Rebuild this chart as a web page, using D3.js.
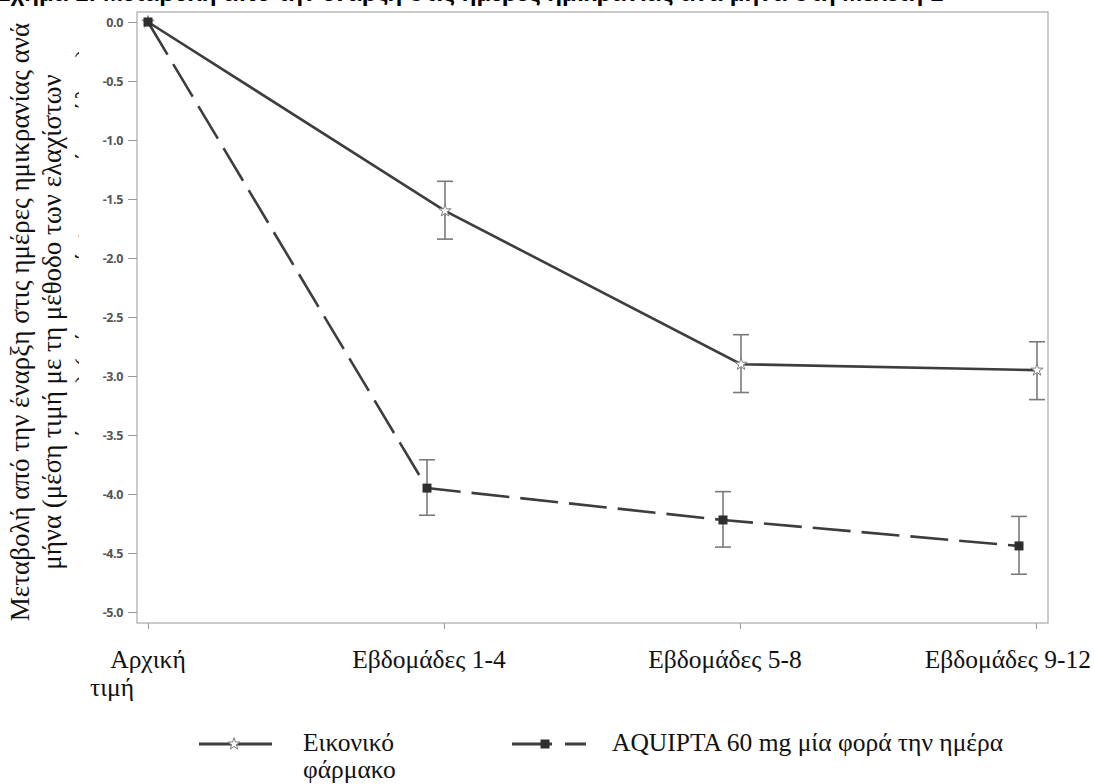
<!DOCTYPE html>
<html>
<head>
<meta charset="utf-8">
<script src="https://cdn.jsdelivr.net/npm/d3@7"></script>
<style>
  body { margin: 0; background: #fff; }
  svg { display: block; }
</style>
</head>
<body>
<div id="chart"></div>
<script>
/* Change from baseline in monthly migraine days, placebo vs AQUIPTA */

const visits = ["Αρχική τιμή", "Εβδομάδες 1-4", "Εβδομάδες 5-8", "Εβδομάδες 9-12"];
const yTicks = [0, -0.5, -1, -1.5, -2, -2.5, -3, -3.5, -4, -4.5, -5];

const placeboMean = [0, -1.60, -2.90, -2.95];
const placeboLow  = [0, -1.84, -3.14, -3.20];
const placeboHigh = [0, -1.35, -2.65, -2.71];

const aquiptaMean = [0, -3.95, -4.22, -4.44];
const aquiptaLow  = [0, -4.18, -4.45, -4.68];
const aquiptaHigh = [0, -3.71, -3.98, -4.19];

const W = 1094, H = 784;
const frame = { left: 137, top: 12, right: 1048, bottom: 623 };
const LINE = "#3d3d3d", ERR = "#7a7a7a";
const serif = "'Liberation Serif', 'Times New Roman', serif";
const FS = "25.5px";

const svg = d3.select("#chart").append("svg")
  .attr("width", W).attr("height", H);

svg.append("defs").append("clipPath").attr("id", "ttl3")
  .append("rect").attr("x", 0).attr("y", 0).attr("width", 79).attr("height", H);

/* title, mostly cut off at the top of the image */
svg.append("text").attr("x", -4).attr("y", 1)
  .style("font-family", "'Liberation Sans', Arial, sans-serif")
  .style("font-size", "24px").style("font-weight", "bold").style("fill", "#000")
  .text("Σχήμα 1: Μεταβολή από την έναρξη στις ημέρες ημικρανίας ανά μήνα στη Μελέτη 1");

const x = d3.scalePoint().domain(visits).range([148, 1036]);
const y = d3.scaleLinear().domain([-5, 0]).range([612, 22]);

/* frame */
svg.append("rect")
  .attr("x", frame.left).attr("y", frame.top)
  .attr("width", frame.right - frame.left).attr("height", frame.bottom - frame.top)
  .attr("fill", "none").attr("stroke", "#a8a8a8").attr("stroke-width", 1.2);

/* y axis */
const yAxis = svg.append("g").attr("transform", `translate(${frame.left},0)`)
  .call(d3.axisLeft(y).tickValues(yTicks).tickSize(9).tickPadding(5)
    .tickFormat(d => d3.format(".1f")(d).replace("−", "-")));
yAxis.select(".domain").remove();
yAxis.selectAll("line").attr("stroke", "#999");
yAxis.selectAll("text")
  .style("font-family", "'Open Sans', 'DejaVu Sans', sans-serif")
  .style("font-size", "12.5px").style("font-weight", "bold")
  .style("fill", "#555").style("letter-spacing", "-0.4px");

/* x axis ticks */
const xAxis = svg.append("g").attr("transform", `translate(0,${frame.bottom})`)
  .call(d3.axisBottom(x).tickSize(6).tickFormat(""));
xAxis.select(".domain").remove();
xAxis.selectAll("line").attr("stroke", "#999");

/* x tick labels (baseline label wraps) */
function serifText(sel, xx, yy, anchor, txt, size) {
  return sel.append("text").attr("x", xx).attr("y", yy).attr("text-anchor", anchor)
    .style("font-family", serif).style("font-size", size || FS).style("fill", "#111")
    .text(txt);
}
visits.forEach((v, i) => {
  if (i === 0) {
    const parts = v.split(" ");
    serifText(svg, x(v), 668, "middle", parts[0]);
    serifText(svg, x(v) - 58, 696, "start", parts[1]);
  } else {
    const t = serifText(svg, x(v) - 15, 668, "middle", v);
    const b = t.node().getBBox();
    if (b.x + b.width > W - 3) t.attr("x", x(v) - 15 - (b.x + b.width - (W - 3)));
  }
});

/* y axis title, rotated lines (third line hidden behind the axis area) */
const yMid = 322;
const YFS = "27px";
svg.append("text").attr("transform", `translate(29,${yMid}) rotate(-90)`)
  .attr("text-anchor", "middle")
  .style("font-family", serif).style("font-size", YFS).style("fill", "#111")
  .text("Μεταβολή από την έναρξη στις ημέρες ημικρανίας ανά");
svg.append("text").attr("transform", `translate(61,${yMid}) rotate(-90)`)
  .attr("text-anchor", "middle")
  .style("font-family", serif).style("font-size", YFS).style("fill", "#111")
  .text("μήνα (μέση τιμή με τη μέθοδο των ελαχίστων");
svg.append("g").attr("clip-path", "url(#ttl3)")
  .append("text").attr("transform", `translate(94,${yMid - 40}) rotate(-90)`)
  .attr("text-anchor", "middle")
  .style("font-family", serif).style("font-size", YFS).style("fill", "#111")
  .text("τετραγώνων) (μέση τιμή ± τυπικό σφάλμα)");

/* series */
const series = [
  { name: "Εικονικό φάρμακο", mean: placeboMean, low: placeboLow, high: placeboHigh,
    dash: null, marker: "star", dodge: 1 },
  { name: "AQUIPTA 60 mg μία φορά την ημέρα", mean: aquiptaMean, low: aquiptaLow, high: aquiptaHigh,
    dash: "38,11", marker: "square", dodge: -17 }
];

const px = (s, i) => x(visits[i]) + (i === 0 ? 0 : s.dodge);

const starPath = d3.symbol().type(d3.symbolStar).size(46);

function drawMarker(g, type, cx, cy) {
  if (type === "star") {
    g.append("path").attr("d", starPath())
      .attr("transform", `translate(${cx},${cy})`)
      .attr("fill", "#fff").attr("stroke", "#808080").attr("stroke-width", 1);
  } else {
    g.append("rect").attr("x", cx - 4.5).attr("y", cy - 4.5)
      .attr("width", 9).attr("height", 9).attr("fill", "#2e2e2e");
  }
}

series.forEach(s => {
  const g = svg.append("g");
  /* error bars */
  s.mean.forEach((m, i) => {
    if (i === 0) return;
    const cx = px(s, i);
    g.append("line").attr("x1", cx).attr("x2", cx)
      .attr("y1", y(s.high[i])).attr("y2", y(s.low[i]))
      .attr("stroke", ERR).attr("stroke-width", 1.6);
    [s.high[i], s.low[i]].forEach(v => {
      g.append("line").attr("x1", cx - 8).attr("x2", cx + 8)
        .attr("y1", y(v)).attr("y2", y(v))
        .attr("stroke", ERR).attr("stroke-width", 1.6);
    });
  });
  /* line */
  const line = d3.line().x((d, i) => px(s, i)).y(d => y(d));
  g.append("path").datum(s.mean).attr("d", line)
    .attr("fill", "none").attr("stroke", LINE).attr("stroke-width", 2.6)
    .attr("stroke-dasharray", s.dash);
  s.mean.forEach((m, i) => drawMarker(g, s.marker, px(s, i), y(m)));
});

/* legend */
const legY = 744;
const leg = svg.append("g");
// placebo
leg.append("line").attr("x1", 199).attr("x2", 272).attr("y1", legY).attr("y2", legY)
  .attr("stroke", LINE).attr("stroke-width", 2.8);
drawMarker(leg, "star", 234, legY);
const nameParts = series[0].name.split(" ");
serifText(leg, 303, 751, "start", nameParts[0]);
serifText(leg, 303, 778, "start", nameParts[1]);
// aquipta
leg.append("line").attr("x1", 512).attr("x2", 586).attr("y1", legY).attr("y2", legY)
  .attr("stroke", LINE).attr("stroke-width", 2.8).attr("stroke-dasharray", "40,13,21");
drawMarker(leg, "square", 545, legY);
serifText(leg, 612, 751, "start", series[1].name);
</script>
</body>
</html>
